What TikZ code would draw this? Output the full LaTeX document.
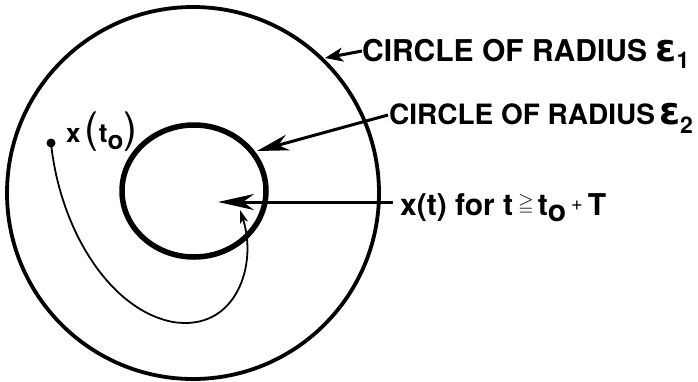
\documentclass[tikz,border=0pt]{standalone}
\usepackage{amssymb}
\usepackage{fontspec}
\setmainfont{TeX Gyre Heros}
\newfontfamily\epsfont{DejaVu Sans}
\usetikzlibrary{arrows.meta,shapes.geometric}
\newcommand{\myeps}{{\epsfont\bfseries\fontsize{38}{38}\selectfont ε}}
\newcommand{\mysub}[2]{\raisebox{-#1}{\fontsize{23}{23}\selectfont #2}}
\begin{document}
\begin{tikzpicture}[x=1pt,y=-1pt,
  lbl/.style={inner sep=0pt, anchor=base west, font=\fontsize{30}{34}\selectfont\bfseries},
  conn/.style={line width=3pt},
  bighead/.style={-{Stealth[length=36pt,width=16pt,inset=11pt]}},
  midhead/.style={-{Stealth[length=32pt,width=16pt,inset=10pt]}},
  smallhead/.style={-{Stealth[length=18pt,width=14pt,inset=5pt]}},
  traj/.style={line width=1.8pt, -{Stealth[length=13pt,width=8pt,inset=3pt]}}]
\useasboundingbox (0,0) rectangle (698,381);
% circles
\node[draw, circle, line width=3.8pt, minimum size=372pt, inner sep=0pt] (outer) at (193,193) {};
\node[draw, ellipse, line width=5.5pt, minimum width=144pt, minimum height=132pt, inner sep=0pt] (inner) at (194,191) {};
% labels
\node[lbl] (t1) at (362,61) {CIRCLE OF RADIUS \myeps\mysub{7pt}{1}};
\node[lbl, font=\fontsize{28}{32}\selectfont\bfseries] (t2) at (389,124) {CIRCLE OF RADIUS\hspace{4pt}\myeps\mysub{9pt}{2}};
\node[lbl] (t3) at (400,215) {x(t) for t\hspace{5pt}\raisebox{6pt}{\fontsize{20}{20}\selectfont$\geqq$}\hspace{4pt}t\raisebox{-6pt}{o}\hspace{5pt}\raisebox{5pt}{\fontsize{20}{20}\selectfont\mdseries +}\hspace{5pt}T};
\node[inner sep=0pt, anchor=base west, font=\fontsize{26}{30}\selectfont\bfseries] (lab) at (66,142)
  {x\,{\fontsize{42}{42}\selectfont\mdseries(}t\raisebox{-7pt}{o}{\fontsize{42}{42}\selectfont\mdseries)}};
% start point
\node[circle, fill, inner sep=0pt, minimum size=9pt] (start) at (51,143) {};
% connector end points
\coordinate (tip1) at (325,58);
\coordinate (tip2) at (257,151);
\coordinate (tip3) at (218,202);
\coordinate (bend) at (173,322);
\coordinate (tip4) at (240,210);
% connectors
\draw[conn, smallhead] ([yshift=10pt]t1.base west) -- (tip1);
\draw[conn, midhead] ([yshift=9pt,xshift=-1pt]t2.base west) -- (tip2);
\draw[conn, bighead] ([yshift=13pt,xshift=-7pt]t3.base west) -- (tip3);
\draw[traj] (start.center) .. controls (60,230) and (110,310) .. (bend)
  .. controls (236,332) and (258,265) .. (tip4);
\end{tikzpicture}
\end{document}
